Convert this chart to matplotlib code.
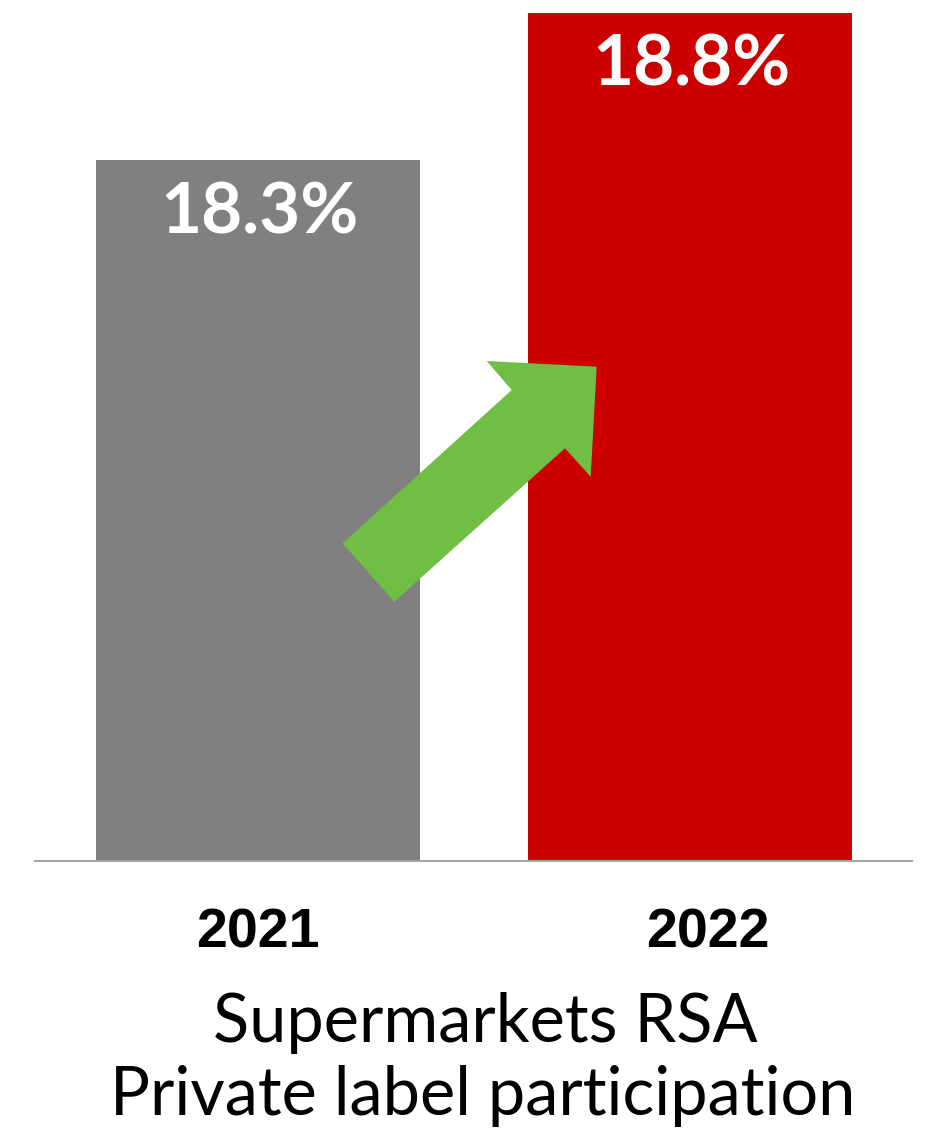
import matplotlib
matplotlib.use("Agg")
import matplotlib.pyplot as plt
from matplotlib.patches import Polygon

years = ["2021", "2022"]
values = [18.3, 18.8]
value_labels = ["18.3%", "18.8%"]
bar_colors = ["#808080", "#CC0000"]
title_lines = ["Supermarkets RSA", "Private label participation"]

W, H = 930, 1130
fig = plt.figure(figsize=(W / 100, H / 100), dpi=100)

def fx(px):
    return px / W

def fy(py):
    return 1 - py / H

ax = fig.add_axes([fx(35), fy(861), fx(912) - fx(35), fy(0) - fy(861)])
x = [0, 1]
ax.bar(x, values, width=0.75, color=bar_colors, bottom=0)
ax.set_xlim(-0.516, 1.514)
ax.set_ylim(15.916, 18.844)
for s in ["top", "right", "left"]:
    ax.spines[s].set_visible(False)
ax.spines["bottom"].set_color("#A6A6A6")
ax.spines["bottom"].set_linewidth(1.5)
ax.set_xticks([])
ax.set_yticks([])
ax.patch.set_alpha(0)

for xi, v, lab in zip(x, values, value_labels):
    ax.annotate(lab, xy=(xi, v), xytext=(1, -52.6), textcoords="offset points",
                ha="center", va="baseline", color="white", fontsize=51,
                family="Lato", fontweight="bold")

year_x = [258, 708]
for yx, yr in zip(year_x, years):
    fig.text(fx(yx), fy(947), yr, ha="center", va="baseline", fontsize=40,
             family="Liberation Sans", fontweight="bold", color="black")

fig.text(fx(485), fy(1042), title_lines[0], ha="center", va="baseline",
         fontsize=48, family="Lato", fontweight="normal", color="black")
fig.text(fx(483), fy(1115), title_lines[1], ha="center", va="baseline",
         fontsize=48, family="Lato", fontweight="normal", color="black")

arrow_px = [(342.7, 543.3), (511.7, 390), (486.7, 361), (596.7, 366.7),
            (590.7, 476.7), (565, 448.3), (394.3, 601.7)]
arrow = Polygon([(fx(a), fy(b)) for a, b in arrow_px], closed=True,
                transform=fig.transFigure, facecolor="#70BF44",
                edgecolor="none", zorder=5)
fig.patches.append(arrow)

fig.savefig("out.png", dpi=100)
